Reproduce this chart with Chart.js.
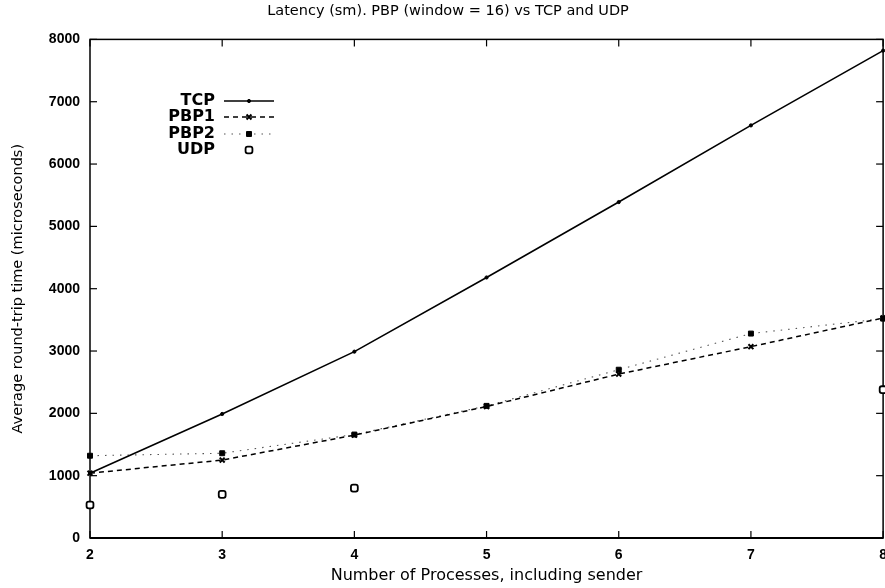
<!DOCTYPE html>
<html><head><meta charset="utf-8">
<script src="https://cdn.jsdelivr.net/npm/chart.js@4/dist/chart.umd.min.js"></script>
<style>
html,body{margin:0;padding:0;overflow:hidden;background:#fff;width:885px;height:588px}
#wrap{position:absolute;left:0;top:0;width:896px;height:588px}
</style>
</head><body><div id="wrap"><canvas id="c"></canvas></div>
<script>
const processes = [2, 3, 4, 5, 6, 7, 8];
const tcp  = [1040, 1990, 2990, 4180, 5390, 6620, 7820];
const pbp1 = [1040, 1250, 1650, 2110, 2630, 3070, 3530];
const pbp2 = [1320, 1360, 1660, 2120, 2700, 3280, 3520];
const udp  = [530, 700, 800, null, null, null, 2380];
const seriesNames = ['TCP', 'PBP1', 'PBP2', 'UDP'];
const titleText = 'Latency (sm). PBP (window = 16) vs TCP and UDP';
const xTitle = 'Number of Processes, including sender';
const yTitle = 'Average round-trip time (microseconds)';

const toXY = arr => processes.map((p, i) => ({x: p, y: arr[i]}));

const frame = {
  id: 'frame',
  beforeDatasetsDraw(chart) {
    const {ctx, chartArea: a, scales: {x, y}} = chart;
    ctx.save();
    ctx.strokeStyle = '#000';
    ctx.lineWidth = 1.5;
    ctx.strokeRect(a.left, a.top, a.right - a.left, a.bottom - a.top);
    ctx.lineWidth = 2.2;
    ctx.beginPath(); ctx.moveTo(a.left, a.bottom); ctx.lineTo(a.right, a.bottom); ctx.stroke();
    ctx.lineWidth = 1.2;
    const seg = (x1, y1, x2, y2) => { ctx.beginPath(); ctx.moveTo(x1, y1); ctx.lineTo(x2, y2); ctx.stroke(); };
    y.ticks.forEach(t => {
      const py = y.getPixelForValue(t.value);
      seg(a.left, py, a.left + 7, py);
      seg(a.right, py, a.right - 7, py);
    });
    x.ticks.forEach(t => {
      const px = x.getPixelForValue(t.value);
      seg(px, a.bottom, px, a.bottom - 7);
      seg(px, a.top, px, a.top + 7);
    });
    ctx.restore();
  },
  afterDatasetsDraw(chart) {
    const {ctx} = chart;
    ctx.save();
    ctx.font = 'bold 16px "DejaVu Sans"';
    ctx.textAlign = 'right';
    ctx.textBaseline = 'middle';
    ctx.fillStyle = '#000';
    const rows = [101, 117, 134, 150];
    chart.data.datasets.forEach((ds, i) => {
      const yy = rows[i];
      ctx.fillText(ds.label, 215, yy);
      if (ds.showLine !== false) {
        ctx.save();
        ctx.strokeStyle = ds.borderColor;
        ctx.lineWidth = ds.borderWidth;
        ctx.setLineDash(ds.borderDash || []);
        ctx.beginPath(); ctx.moveTo(224, yy); ctx.lineTo(274, yy); ctx.stroke();
        ctx.restore();
      }
      ctx.save();
      ctx.setLineDash([]);
      ctx.fillStyle = ds.pointBackgroundColor;
      ctx.strokeStyle = ds.pointBorderColor;
      ctx.lineWidth = ds.pointBorderWidth;
      Chart.helpers.drawPoint(ctx, {pointStyle: ds.pointStyle, radius: ds.pointRadius, rotation: 0, borderWidth: ds.pointBorderWidth}, 249, yy);
      ctx.restore();
    });
    ctx.restore();
  }
};

new Chart(document.getElementById('c'), {
  type: 'line',
  data: {
    datasets: [
      {label: seriesNames[0], data: toXY(tcp), borderColor: '#000', borderWidth: 1.6, pointStyle: 'circle', pointRadius: 1.6, pointBackgroundColor: '#000', pointBorderColor: '#000', pointBorderWidth: 1, clip: false},
      {label: seriesNames[1], data: toXY(pbp1), borderColor: '#000', borderWidth: 1.5, borderDash: [5, 4], pointStyle: 'crossRot', pointRadius: 3.5, pointBackgroundColor: '#000', pointBorderColor: '#000', pointBorderWidth: 2, clip: false},
      {label: seriesNames[2], data: toXY(pbp2), borderColor: '#555', borderWidth: 1.1, borderDash: [1.5, 6], pointStyle: 'rect', pointRadius: 3.5, pointBackgroundColor: '#000', pointBorderColor: '#000', pointBorderWidth: 1, clip: false},
      {label: seriesNames[3], data: toXY(udp), showLine: false, pointStyle: 'rectRounded', pointRadius: 4, pointBackgroundColor: '#fff', pointBorderColor: '#000', pointBorderWidth: 1.8, clip: false}
    ]
  },
  options: {
    responsive: true,
    maintainAspectRatio: false,
    animation: false,
    events: [],
    devicePixelRatio: 1,
    layout: {padding: 0},
    plugins: {
      legend: {display: false},
      tooltip: {enabled: false},
      title: {display: true, text: titleText, color: '#000', font: {family: '"DejaVu Sans"', size: 14.5, weight: 'normal'}, padding: {top: 3, bottom: 19}}
    },
    scales: {
      x: {
        type: 'linear', min: 2, max: 8,
        ticks: {stepSize: 1, color: '#000', font: {family: '"Liberation Sans"', size: 14, weight: 'bold'}, padding: 9, callback: v => String(v)},
        grid: {display: false, drawTicks: false},
        border: {display: false},
        title: {display: true, text: xTitle, color: '#000', font: {family: '"DejaVu Sans"', size: 16}, padding: {top: 0, bottom: 3}},
        afterFit: s => { s.height = 50; }
      },
      y: {
        min: 0, max: 8000,
        ticks: {stepSize: 1000, color: '#000', font: {family: '"Liberation Sans"', size: 14, weight: 'bold'}, padding: 10, callback: v => String(v)},
        grid: {display: false, drawTicks: false},
        border: {display: false},
        title: {display: true, text: yTitle, color: '#000', font: {family: '"DejaVu Sans"', size: 14.5}, padding: {top: 10, bottom: 0}},
        afterFit: s => { s.width = 90; }
      }
    }
  },
  plugins: [frame]
});
</script>
</body></html>
